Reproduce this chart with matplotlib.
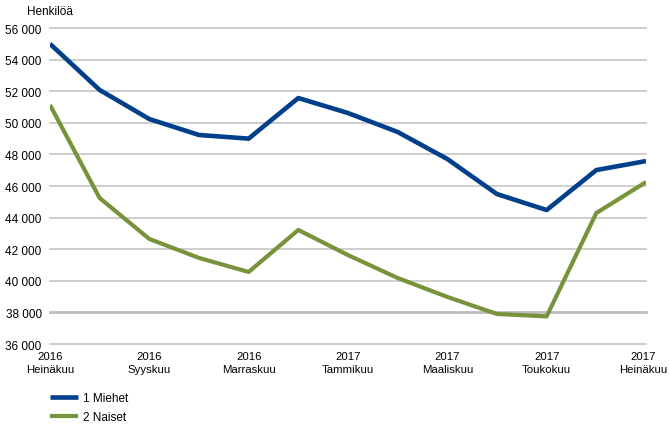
import numpy as np
import matplotlib.pyplot as plt
import matplotlib.transforms as mtransforms
from matplotlib.ticker import FuncFormatter

plt.rcParams['font.family'] = ['Liberation Sans', 'DejaVu Sans']

years = ['2016', '2016', '2016', '2016', '2016', '2016', '2017',
         '2017', '2017', '2017', '2017', '2017', '2017']
months = ['Heinäkuu', 'Elokuu', 'Syyskuu', 'Lokakuu', 'Marraskuu', 'Joulukuu',
          'Tammikuu', 'Helmikuu', 'Maaliskuu', 'Huhtikuu', 'Toukokuu',
          'Kesäkuu', 'Heinäkuu']
miehet = [55000, 52080, 50240, 49230, 49000, 51570, 50620, 49420,
          47710, 45490, 44480, 47010, 47580]
naiset = [51130, 45240, 42650, 41450, 40560, 43220, 41630, 40180,
          38980, 37900, 37750, 44290, 46250]

blue = '#003f8a'
green = '#77933c'
fs = 8.5

fig = plt.figure(figsize=(6.69, 4.27), dpi=100)
ax = fig.add_axes([0.0747, 0.192, 0.8909, 0.740])

x = np.arange(len(months))
ax.plot(x, miehet, color=blue, lw=3.3, label='1 Miehet', solid_capstyle='butt', zorder=3)
ax.plot(x, naiset, color=green, lw=3.0, label='2 Naiset', solid_capstyle='butt', zorder=3)

ax.set_xlim(0, 12)
ax.set_ylim(36000, 56000)
ax.set_yticks(np.arange(36000, 56001, 2000))
ax.yaxis.set_major_formatter(FuncFormatter(lambda v, p: f'{int(v):,}'.replace(',', ' ')))
ax.set_xticks(x[::2])
ax.set_xticklabels([y + '\n' + m for y, m in zip(years[::2], months[::2])],
                   fontsize=8.2, linespacing=1.35)
ax.tick_params(axis='y', labelsize=fs, length=0, pad=6)
ax.tick_params(axis='x', length=0, pad=5)

# last label sits at the right edge, nudge it in a little
last = ax.get_xticklabels()[-1]
last.set_transform(last.get_transform() + mtransforms.ScaledTranslation(-3 / 100, 0, fig.dpi_scale_trans))

for v in ax.get_yticks():
    ax.axhline(v, color='#bdbdbd' if v == 38000 else '#c6c6c6',
               lw=2.0 if v == 38000 else 1.2, zorder=1, clip_on=False)
for s in ax.spines.values():
    s.set_visible(False)

fig.text(27 / 669, 1 - 12 / 427, 'Henkilöä', fontsize=fs, ha='left', va='center')

fig.legend(loc='upper left', bbox_to_anchor=(0.0747, 0.079), frameon=False,
           fontsize=fs, handlelength=2.4, handletextpad=0.4, labelspacing=0.6,
           borderpad=0, borderaxespad=0)

fig.savefig('out.png', dpi=100)
